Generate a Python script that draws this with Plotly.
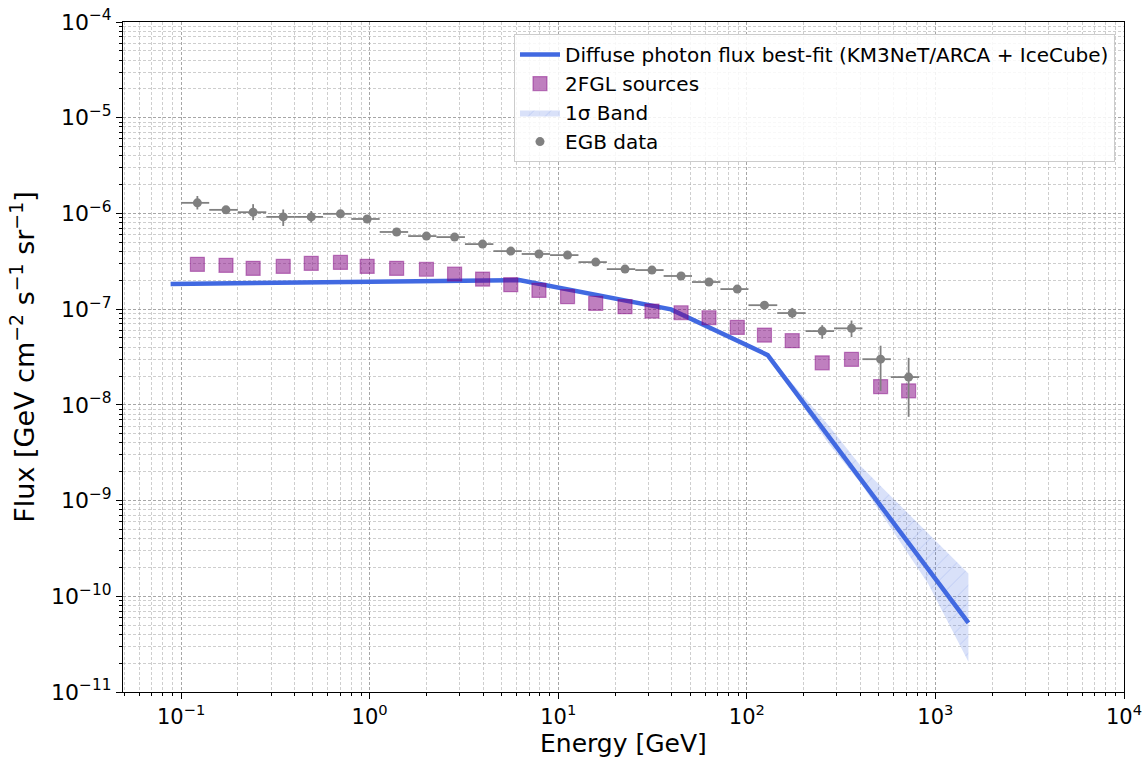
import plotly.graph_objects as go

# ---- data ----------------------------------------------------------------
# Energy bin centres [GeV] shared by the EGB and 2FGL points
energy = [0.122, 0.173, 0.241, 0.348, 0.49, 0.70, 0.97, 1.39, 2.0, 2.82,
          3.97, 5.6, 7.9, 11.2, 15.8, 22.6, 31.4, 44.8, 63, 89,
          124, 174, 251, 359, 512, 721]
# EGB energy bin edges [GeV]
egb_bin_edges = [0.1, 0.141, 0.2, 0.283, 0.4, 0.566, 0.8, 1.13, 1.6, 2.26,
                 3.2, 4.53, 6.4, 9.05, 12.8, 18.1, 25.6, 36.2, 51.2, 72.4,
                 102, 145, 205, 290, 410, 580, 820]
# EGB flux and the ends of its vertical error bars
egb_flux = [1.29e-6, 1.09e-6, 1.03e-6, 9.2e-7, 9.2e-7, 9.9e-7, 8.75e-7, 6.4e-7,
            5.8e-7, 5.66e-7, 4.78e-7, 4.04e-7, 3.77e-7, 3.67e-7, 3.1e-7, 2.62e-7,
            2.56e-7, 2.22e-7, 1.92e-7, 1.62e-7, 1.1e-7, 9.1e-8, 5.9e-8, 6.3e-8,
            3.0e-8, 1.95e-8]
egb_flux_hi = [1.52e-6, 1.17e-6, 1.25e-6, 1.10e-6, 1.06e-6, 1.07e-6, 9.4e-7, 6.8e-7,
               6.15e-7, 6.0e-7, 5.1e-7, 4.3e-7, 4.0e-7, 3.9e-7, 3.3e-7, 2.8e-7,
               2.75e-7, 2.4e-7, 2.07e-7, 1.76e-7, 1.21e-7, 1.03e-7, 6.8e-8, 7.6e-8,
               4.15e-8, 3.1e-8]
egb_flux_lo = [1.10e-6, 1.02e-6, 8.5e-7, 7.4e-7, 8.0e-7, 9.2e-7, 8.1e-7, 6.0e-7,
               5.45e-7, 5.3e-7, 4.5e-7, 3.8e-7, 3.55e-7, 3.45e-7, 2.9e-7, 2.45e-7,
               2.4e-7, 2.05e-7, 1.78e-7, 1.49e-7, 1.0e-7, 8.0e-8, 4.9e-8, 5.1e-8,
               1.4e-8, 7.5e-9]
# 2FGL source contribution
fgl_flux = [2.94e-7, 2.87e-7, 2.67e-7, 2.80e-7, 3.01e-7, 3.08e-7, 2.80e-7, 2.67e-7,
            2.61e-7, 2.33e-7, 2.06e-7, 1.80e-7, 1.57e-7, 1.35e-7, 1.15e-7, 1.06e-7,
            9.55e-8, 9.17e-8, 8.13e-8, 6.45e-8, 5.36e-8, 4.68e-8, 2.75e-8, 2.99e-8,
            1.55e-8, 1.40e-8]
# Best-fit diffuse photon flux (broken power law)
fit_energy = [0.088, 6.2, 39.6, 129, 1496]
fit_flux = [1.83e-7, 2.01e-7, 9.95e-8, 3.31e-8, 5.28e-11]
# 1 sigma band around the fit
band_energy = [129, 270, 405, 917, 1496]
band_upper = [3.31e-8, 6.15e-9, 2.25e-9, 4.54e-10, 1.73e-10]
band_lower = [3.31e-8, 3.99e-9, 1.49e-9, 1.34e-10, 2.07e-11]

# tick labels
x_tickvals = [1e-1, 1e0, 1e1, 1e2, 1e3, 1e4]
x_ticktext = ["10<sup>\u22121</sup>", "10<sup>0</sup>", "10<sup>1</sup>",
              "10<sup>2</sup>", "10<sup>3</sup>", "10<sup>4</sup>"]
y_tickvals = [1e-11, 1e-10, 1e-9, 1e-8, 1e-7, 1e-6, 1e-5, 1e-4]
y_ticktext = ["10<sup>\u221211</sup>", "10<sup>\u221210</sup>", "10<sup>\u22129</sup>",
              "10<sup>\u22128</sup>", "10<sup>\u22127</sup>", "10<sup>\u22126</sup>",
              "10<sup>\u22125</sup>", "10<sup>\u22124</sup>"]

FONT = "DejaVu Sans"
BLUE = "#4169E1"

fig = go.Figure()

# 1 sigma band (hatched)
fig.add_trace(go.Scatter(
    x=band_energy + band_energy[::-1],
    y=band_upper + band_lower[::-1],
    fill="toself", mode="lines", line=dict(width=0, color=BLUE),
    fillcolor="rgba(65,105,225,0.2)",
    fillpattern=dict(shape="/", fgcolor="rgba(65,105,225,0.35)",
                     bgcolor="rgba(65,105,225,0.2)", size=12, solidity=0.08),
    name="1\u03c3 Band", legendrank=3, hoverinfo="skip",
))

# best-fit line
fig.add_trace(go.Scatter(
    x=fit_energy, y=fit_flux, mode="lines",
    line=dict(color=BLUE, width=4.5),
    name="Diffuse photon flux best-fit (KM3NeT/ARCA + IceCube)", legendrank=1,
))

# 2FGL sources
fig.add_trace(go.Scatter(
    x=energy, y=fgl_flux, mode="markers",
    marker=dict(symbol="square", size=14, color="rgba(128,0,128,0.5)",
                line=dict(color="rgba(128,0,128,0.45)", width=1.2)),
    name="2FGL sources", legendrank=2,
))

# EGB data with bin widths and flux errors
ex_plus = [egb_bin_edges[i + 1] - e for i, e in enumerate(energy)]
ex_minus = [e - egb_bin_edges[i] for i, e in enumerate(energy)]
ey_plus = [h - f for h, f in zip(egb_flux_hi, egb_flux)]
ey_minus = [f - l for f, l in zip(egb_flux, egb_flux_lo)]
fig.add_trace(go.Scatter(
    x=energy, y=egb_flux, mode="markers",
    marker=dict(symbol="circle", size=9, color="#808080"),
    error_x=dict(type="data", symmetric=False, array=ex_plus, arrayminus=ex_minus,
                 color="#808080", thickness=1.8, width=0),
    error_y=dict(type="data", symmetric=False, array=ey_plus, arrayminus=ey_minus,
                 color="#808080", thickness=1.8, width=0),
    name="EGB data", legendrank=4,
))

grid_major = "rgba(150,150,150,0.7)"
grid_minor = "rgba(165,165,165,0.55)"
DASH = "3px,2px"

axis_common = dict(
    type="log", tickmode="array",
    ticks="outside", ticklen=6, tickwidth=1, tickcolor="black",
    showgrid=True, gridcolor=grid_major, griddash=DASH, gridwidth=0.8,
    minor=dict(dtick="D1", ticks="outside", ticklen=3, tickcolor="black",
               showgrid=True, gridcolor=grid_minor, griddash=DASH, gridwidth=0.6),
    showline=True, linecolor="black", linewidth=1, mirror=True,
    zeroline=False, automargin=False,
)

fig.update_xaxes(
    range=[-1.308, 4], tickvals=x_tickvals, ticktext=x_ticktext,
    tickfont=dict(family=FONT, size=21, color="black"),
    **axis_common,
)
fig.update_yaxes(
    range=[-11, -4], tickvals=y_tickvals, ticktext=y_ticktext,
    tickfont=dict(family=FONT, size=22, color="black"),
    title=dict(text="Flux [GeV cm<sup>\u22122</sup> s<sup>\u22121</sup> sr<sup>\u22121</sup>]",
               font=dict(family=FONT, size=27, color="black"), standoff=8),
    **axis_common,
)

# x-axis title placed just under the tick labels
fig.add_annotation(
    text="Energy [GeV]", xref="paper", yref="paper", x=0.5, y=-0.077,
    xanchor="center", yanchor="middle", showarrow=False,
    font=dict(family=FONT, size=25, color="black"),
)

fig.update_layout(
    width=1148, height=758,
    margin=dict(l=123, r=24, t=22, b=66),
    paper_bgcolor="white", plot_bgcolor="white",
    font=dict(family=FONT, color="black"),
    legend=dict(
        x=0.991, y=0.982, xanchor="right", yanchor="top",
        bgcolor="rgba(255,255,255,0.85)", bordercolor="#cccccc", borderwidth=1,
        font=dict(family=FONT, size=20, color="black"),
        tracegroupgap=4, itemwidth=40,
    ),
    showlegend=True,
)

fig.write_html("out.html")
